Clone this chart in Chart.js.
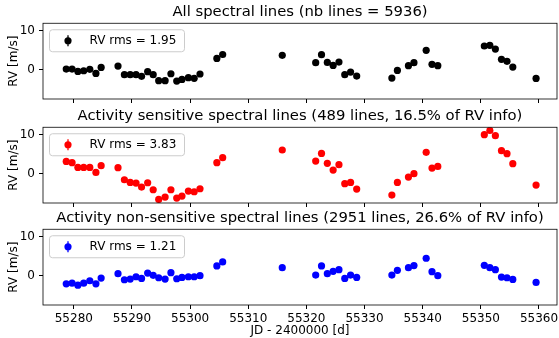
<!DOCTYPE html>
<html>
<head>
<meta charset="utf-8">
<script src="https://cdn.jsdelivr.net/npm/chart.js@4"></script>
<style>
  body { margin: 0; background: #fff; }
  #fig { position: relative; width: 559px; height: 338px; }
  #fig canvas { position: absolute; left: 0; }
</style>
</head>
<body>
<div id="fig">
  <canvas id="allChart" width="559" height="103" style="top:0px"></canvas>
  <canvas id="activeChart" width="559" height="103" style="top:104px"></canvas>
  <canvas id="inactiveChart" width="559" height="132" style="top:206px"></canvas>
</div>
<script>
// observation dates (JD - 2400000)
const jd = [55278.7, 55279.7, 55280.7, 55281.7, 55282.75, 55283.8, 55284.7, 55287.6, 55288.7, 55289.7,
  55290.7, 55291.65, 55292.7, 55293.65, 55294.6, 55295.7, 55296.7, 55297.7, 55298.6, 55299.7,
  55300.7, 55301.7, 55304.6, 55305.6, 55315.85, 55321.6, 55322.6, 55323.6, 55324.6, 55325.6,
  55326.6, 55327.6, 55328.65, 55334.7, 55335.65, 55337.55, 55338.5, 55340.6, 55341.6, 55342.6,
  55350.6, 55351.55, 55352.5, 55353.55, 55354.5, 55355.5, 55359.5];

const rvAll = [0.17, 0.17, -0.43, -0.26, 0.09, -0.94, 0.6, 0.94, -1.28, -1.28,
  -1.28, -1.7, -0.51, -1.28, -2.8, -2.8, -1.03, -2.9, -2.48, -2.05,
  -2.2, -1.1, 2.9, 3.9, 3.68, 1.8, 3.85, 1.88, 1.11, 1.97,
  -1.28, -0.6, -1.62, -2.14, -0.17, 1.03, 1.8, 4.96, 1.37, 1.03,
  6.07, 6.24, 5.3, 2.65, 2.14, 0.68, -2.23];

const rvActive = [3.16, 2.82, 1.62, 1.62, 1.62, 0.34, 2.05, 1.54, -1.54, -2.22,
  -2.39, -3.42, -2.31, -4.1, -6.58, -5.98, -4.1, -6.24, -5.73, -4.44,
  -4.62, -3.85, 2.82, 4.1, 6.07, 3.25, 5.21, 2.65, 0.94, 2.31,
  -2.56, -2.22, -3.93, -5.47, -2.22, -0.85, 0, 5.47, 1.45, 1.88,
  10.0, 11.1, 9.74, 5.9, 5.13, 2.56, -2.9];

const rvInactive = [-2.07, -1.9, -2.41, -1.9, -1.29, -2.07, -0.6, 0.52, -1.03, -0.86,
  -0.26, -0.69, 0.69, 0.09, -0.52, -0.86, 0.78, -0.78, -0.43, -0.26,
  -0.26, 0, 2.5, 3.53, 2.07, 0.17, 2.5, 0.52, 1.12, 1.55,
  -0.69, 0.17, -0.43, 0.17, 1.38, 2.07, 2.59, 4.48, 1.03, 0,
  2.67, 2.07, 1.55, -0.34, -0.52, -0.95, -1.72];

const xTicks = [55280, 55290, 55300, 55310, 55320, 55330, 55340, 55350, 55360];
const yTicks = [0, 10];

const FONT = 'DejaVu Sans';

// axes frame + legend box inside the plot, matplotlib style
const framePlugin = {
  id: 'frame',
  afterDraw(chart) {
    const { ctx, chartArea: a } = chart;
    ctx.save();
    ctx.strokeStyle = '#000';
    ctx.lineWidth = 0.8;
    ctx.strokeRect(a.left, a.top, a.right - a.left, a.bottom - a.top);

    const ds = chart.data.datasets[0];
    const bx = a.left + 6.5, by = a.top + 6.5, bw = 135, bh = 22;
    ctx.fillStyle = 'rgba(255,255,255,0.8)';
    ctx.strokeStyle = '#cccccc';
    ctx.lineWidth = 1;
    ctx.beginPath();
    ctx.roundRect(bx, by, bw, bh, 3);
    ctx.fill();
    ctx.stroke();

    const mx = bx + 18.5, my = by + bh / 2;
    ctx.strokeStyle = ds.backgroundColor;
    ctx.lineWidth = 1.3;
    ctx.beginPath();
    ctx.moveTo(mx, my - 5.5);
    ctx.lineTo(mx, my + 5.5);
    ctx.stroke();
    ctx.fillStyle = ds.backgroundColor;
    ctx.beginPath();
    ctx.arc(mx, my, 3.6, 0, Math.PI * 2);
    ctx.fill();

    ctx.fillStyle = '#000';
    ctx.font = '12px ' + FONT;
    ctx.textBaseline = 'middle';
    ctx.fillText(ds.label, bx + 40, my + 0.5);
    ctx.restore();
  }
};

// no label-overflow padding, the panels are laid out by hand
const noPad = s => { s.paddingTop = 0; s.paddingBottom = 0; s.paddingLeft = 0; s.paddingRight = 0; };

function makePanel(id, title, values, color, rms, isBottom) {
  const points = jd.map((x, i) => ({ x: x, y: values[i] }));
  return new Chart(document.getElementById(id), {
    type: 'scatter',
    data: {
      datasets: [{
        label: 'RV rms = ' + rms,
        data: points,
        backgroundColor: color,
        borderColor: color,
        pointRadius: 3.6,
        pointHoverRadius: 3.6,
        borderWidth: 0
      }]
    },
    plugins: [framePlugin],
    options: {
      responsive: false,
      devicePixelRatio: 1,
      animation: false,
      layout: { autoPadding: false, padding: { left: 0, right: 2, top: 0, bottom: 0 } },
      plugins: {
        legend: { display: false },
        tooltip: { enabled: false },
        title: {
          display: true,
          fullSize: false,
          text: title,
          color: '#000',
          font: { family: FONT, size: 14.8, weight: 'normal' },
          padding: { top: 3.5, bottom: 2 }
        }
      },
      scales: {
        x: {
          type: 'linear',
          min: 55274.7,
          max: 55363.1,
          afterBuildTicks: s => { s.ticks = xTicks.map(v => ({ value: v })); },
          afterFit: s => { s.height = isBottom ? 33 : 4; noPad(s); },
          border: { display: false },
          grid: { drawOnChartArea: false, drawTicks: true, tickLength: 4, color: '#000' },
          ticks: {
            display: isBottom,
            color: '#000',
            padding: 3,
            maxRotation: 0,
            font: { family: FONT, size: 12 },
            callback: v => String(v)
          },
          title: {
            display: isBottom,
            text: 'JD - 2400000 [d]',
            color: '#000',
            font: { family: FONT, size: 12 },
            padding: { top: 0, bottom: 0 }
          }
        },
        y: {
          min: -7.5,
          max: 11.9,
          afterBuildTicks: s => { s.ticks = yTicks.map(v => ({ value: v })); },
          afterFit: s => { s.width = 43; noPad(s); },
          border: { display: false },
          grid: { drawOnChartArea: false, drawTicks: true, tickLength: 4, color: '#000' },
          ticks: {
            color: '#000',
            padding: 4,
            font: { family: FONT, size: 12 }
          },
          title: {
            display: true,
            text: 'RV [m/s]',
            color: '#000',
            font: { family: FONT, size: 12 },
            padding: { top: 7, bottom: 0 }
          }
        }
      }
    }
  });
}

makePanel('allChart', 'All spectral lines (nb lines = 5936)', rvAll, '#000000', '1.95', false);
makePanel('activeChart', 'Activity sensitive spectral lines (489 lines, 16.5% of RV info)', rvActive, '#ff0000', '3.83', false);
makePanel('inactiveChart', 'Activity non-sensitive spectral lines (2951 lines, 26.6% of RV info)', rvInactive, '#0000ff', '1.21', true);
</script>
</body>
</html>
